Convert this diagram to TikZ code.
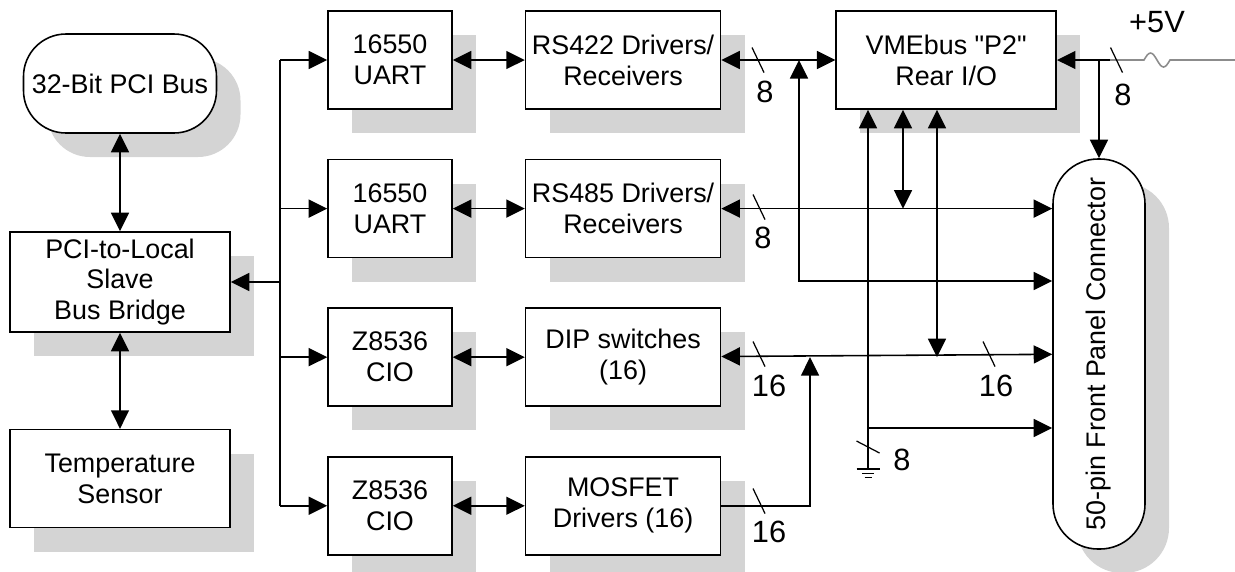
\documentclass[tikz,border=0pt]{standalone}
\usepackage{fontspec}
\setmainfont{Liberation Sans}[Ligatures=TeXOff]
\usetikzlibrary{arrows.meta,positioning,shadows,calc}
\newcommand\boxfont{\fontsize{15.3}{17.6}\selectfont}
\newcommand\numfont{\fontsize{17.5}{20}\selectfont}
\definecolor{shadegray}{RGB}{212,212,212}
\definecolor{fusegray}{RGB}{140,140,140}

\begin{document}
\begin{tikzpicture}[
  blk/.style={draw, fill=white, line width=0.9pt, align=center, minimum height=1.96cm, inner sep=1pt, font=\boxfont, drop shadow={shadow xshift=0.48cm, shadow yshift=-0.48cm, fill=shadegray, opacity=1}},
  capsule/.style={blk, rounded corners=0.85cm},
  num/.style={font=\numfont, inner sep=0pt},
  arr/.style={-{Triangle[length=0.37cm,width=0.36cm]}, line width=0.9pt},
  biarr/.style={{Triangle[length=0.37cm,width=0.36cm]}-{Triangle[length=0.37cm,width=0.36cm]}, line width=0.9pt},
  tick/.style={line width=0.7pt}
]
\useasboundingbox (0,0) rectangle (24.7,-11.42);
% host side
\node[capsule, minimum width=3.86cm, minimum height=1.98cm] (pci) at (2.4,-1.67) {32-Bit PCI Bus};
\node[blk, minimum width=4.4cm, minimum height=2cm] (bridge) at (2.4,-5.64) {PCI-to-Local\\Slave\\Bus Bridge};
\node[blk, minimum width=4.4cm, below=1.92cm of bridge] (temp) {Temperature\\Sensor};
% controllers
\node[blk, minimum width=2.48cm] (uart1) at (7.8,-1.2) {16550\\UART};
\node[blk, minimum width=2.48cm, below=0.98cm of uart1] (uart2) {16550\\UART};
\node[blk, minimum width=2.48cm, below=0.98cm of uart2] (cio1) {Z8536\\CIO};
\node[blk, minimum width=2.48cm, below=0.98cm of cio1] (cio2) {Z8536\\CIO};
% drivers
\node[blk, minimum width=3.9cm, right=1.44cm of uart1] (rs422) {RS422 Drivers/\\Receivers};
\node[blk, minimum width=3.9cm, right=1.44cm of uart2] (rs485) {RS485 Drivers/\\Receivers};
\node[blk, minimum width=3.9cm, right=1.44cm of cio1] (dip) {DIP switches\\(16)};
\node[blk, minimum width=3.9cm, right=1.44cm of cio2] (mos) {MOSFET\\Drivers (16)};
% outputs
\node[blk, minimum width=4.4cm, right=2.28cm of rs422] (vme) {VMEbus "P2"\\Rear I/O};
\node[capsule, minimum width=1.84cm, minimum height=7.8cm, rounded corners=0.9cm] (conn) at (21.98,-7.08) {};
\node[rotate=90, font=\boxfont] (conntxt) at (conn.center) {50-pin Front Panel Connector};

% local bus
\coordinate (bus) at (5.6,-5.64);
\draw[biarr] (pci) -- (bridge);
\draw[biarr] (bridge) -- (temp);
\draw[arr] (bus) -- (bridge);
\draw[line width=0.9pt] (bus |- uart1) -- (bus |- cio2);
\draw[arr] (bus |- uart1) -- (uart1);
\draw[arr] (bus |- uart2) -- (uart2);
\draw[arr] (bus |- cio1) -- (cio1);
\draw[arr] (bus |- cio2) -- (cio2);
\draw[biarr] (uart1) -- (rs422);
\draw[biarr] (uart2) -- (rs485);
\draw[biarr] (cio1) -- (dip);
\draw[biarr] (cio2) -- (mos);

% field side
\coordinate (tap) at (15.98,-1.2);
\coordinate (up) at (16.2,0);
\coordinate (xb) at (18.06,0);
\coordinate (xc) at (18.74,0);
\coordinate (gnd) at (17.36,-9.38);
\coordinate (lvl2) at (0,-5.62);
\coordinate (lvl4) at (0,-8.56);
\draw[biarr] (rs422) -- (vme);
\draw[biarr] (tap) |- (conn.west |- lvl2);
\draw[biarr] (rs485) -- (rs485 -| conn.west);
\draw[biarr] (dip) -- (conn);
\draw[arr] (mos) -| (up |- dip);
\draw[biarr] (xb |- vme.south) -- (xb |- rs485);
\draw[biarr] (xc |- vme.south) -- (xc |- dip);
\draw[arr] (gnd) -- (gnd |- vme.south);
\draw[arr] (gnd |- lvl4) -- (conn.west |- lvl4);
\draw[line width=0.85pt] (gnd) +(-0.23,0) -- +(0.23,0) +(-0.12,-0.087) -- +(0.12,-0.087) +(-0.07,-0.173) -- +(0.07,-0.173);

% supply
\coordinate (fz) at (22.2,-1.2);
\coordinate (vin) at (24.7,-1.2);
\draw[arr] (fz) -- (vme);
\draw[arr] (conn.north |- vme) -- (conn);
\draw[fusegray, line width=0.9pt] (fz) -- (22.88,-1.2) sin (23.01,-1.06) cos (23.14,-1.2) sin (23.27,-1.34) cos (23.4,-1.2) -- (vin);
\node[num] (vlab) at (23.14,-0.44) {+5V};

% bus widths
\draw[tick] (15.16,-1.2) +(-0.12,0.25) -- +(0.12,-0.25);
\draw[tick] (15.18,-4.14) +(-0.12,0.25) -- +(0.12,-0.25);
\draw[tick] (15.18,-7.08) +(-0.12,0.25) -- +(0.12,-0.25);
\draw[tick] (19.78,-7.08) +(-0.12,0.25) -- +(0.12,-0.25);
\draw[tick] (15.18,-10.02) +(-0.12,0.25) -- +(0.12,-0.25);
\draw[tick] (17.36,-8.94) +(-0.23,0.12) -- +(0.23,-0.12);
\draw[tick] (22.33,-1.2) +(-0.12,0.25) -- +(0.12,-0.25);
\node[num] (w1) at (15.3,-1.84) {8};
\node[num] (w2) at (15.26,-4.76) {8};
\node[num] (w3) at (15.38,-7.72) {16};
\node[num] (w4) at (19.92,-7.72) {16};
\node[num] (w5) at (15.38,-10.64) {16};
\node[num] (w6) at (18.04,-9.2) {8};
\node[num] (w7) at (22.46,-1.9) {8};
\end{tikzpicture}
\end{document}
